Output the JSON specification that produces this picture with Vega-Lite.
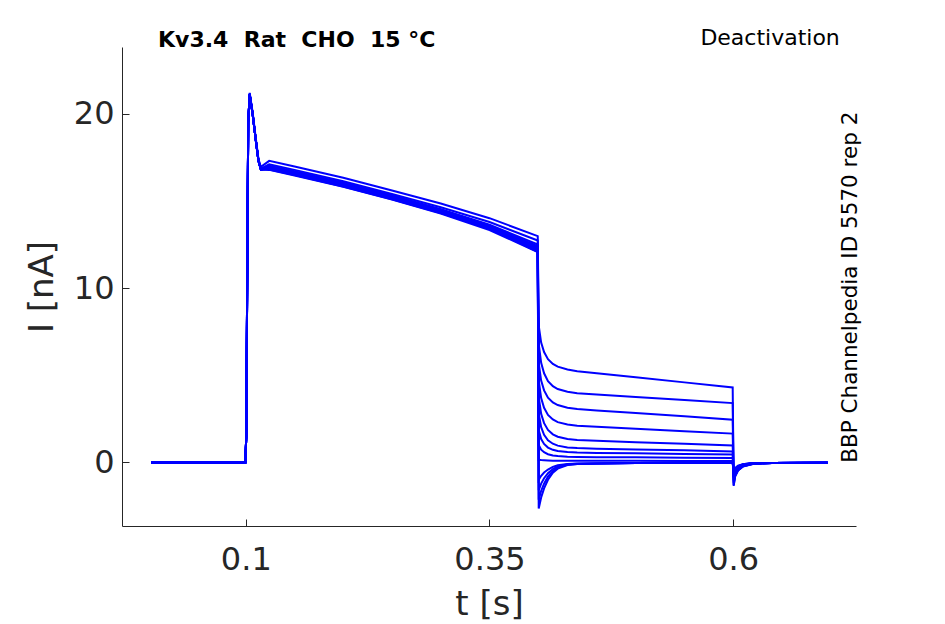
{
  "$schema": "https://vega.github.io/schema/vega-lite/v6.json",
  "width": 734,
  "height": 479,
  "autosize": "none",
  "padding": {"left": 122, "top": 47, "right": 89, "bottom": 98},
  "background": "white",
  "config": {"view": {"stroke": null}, "font": "DejaVu Sans"},
  "datasets": {
    "traces": [
      {"s":1,"t":0.003,"i":0},{"s":1,"t":0.0995,"i":0},{"s":1,"t":0.1005,"i":1.5},{"s":1,"t":0.1015,"i":11},{"s":1,"t":0.1025,"i":19.5},{"s":1,"t":0.104,"i":21.2},{"s":1,"t":0.107,"i":20.1},{"s":1,"t":0.11,"i":18.7},{"s":1,"t":0.113,"i":17.4},{"s":1,"t":0.1155,"i":16.95},
      {"s":1,"t":0.124,"i":17.3},{"s":1,"t":0.15,"i":16.98},{"s":1,"t":0.2,"i":16.33},{"s":1,"t":0.25,"i":15.6},{"s":1,"t":0.3,"i":14.85},{"s":1,"t":0.35,"i":14.01},{"s":1,"t":0.3995,"i":12.98},
      {"s":1,"t":0.4005,"i":7.85},{"s":1,"t":0.403,"i":6.87},{"s":1,"t":0.406,"i":6.33},{"s":1,"t":0.41,"i":5.92},{"s":1,"t":0.415,"i":5.65},{"s":1,"t":0.42,"i":5.49},{"s":1,"t":0.43,"i":5.33},{"s":1,"t":0.44,"i":5.23},{"s":1,"t":0.46,"i":5.11},{"s":1,"t":0.5,"i":4.88},{"s":1,"t":0.55,"i":4.59},{"s":1,"t":0.5995,"i":4.3},
      {"s":1,"t":0.6005,"i":-1.35},{"s":1,"t":0.602,"i":-0.81},{"s":1,"t":0.605,"i":-0.47},{"s":1,"t":0.61,"i":-0.24},{"s":1,"t":0.62,"i":-0.09},{"s":1,"t":0.64,"i":-0.03},{"s":1,"t":0.697,"i":-0.02},

      {"s":2,"t":0.003,"i":0},{"s":2,"t":0.0995,"i":0},{"s":2,"t":0.1005,"i":1.5},{"s":2,"t":0.1015,"i":11},{"s":2,"t":0.1025,"i":19.5},{"s":2,"t":0.104,"i":21.15},{"s":2,"t":0.107,"i":20},{"s":2,"t":0.11,"i":18.6},{"s":2,"t":0.113,"i":17.3},{"s":2,"t":0.1155,"i":16.85},
      {"s":2,"t":0.124,"i":17.1},{"s":2,"t":0.15,"i":16.78},{"s":2,"t":0.2,"i":16.13},{"s":2,"t":0.25,"i":15.4},{"s":2,"t":0.3,"i":14.64},{"s":2,"t":0.35,"i":13.79},{"s":2,"t":0.3995,"i":12.73},
      {"s":2,"t":0.4005,"i":6.8},{"s":2,"t":0.403,"i":5.71},{"s":2,"t":0.406,"i":5.11},{"s":2,"t":0.41,"i":4.66},{"s":2,"t":0.415,"i":4.37},{"s":2,"t":0.42,"i":4.21},{"s":2,"t":0.43,"i":4.05},{"s":2,"t":0.44,"i":3.97},{"s":2,"t":0.46,"i":3.89},{"s":2,"t":0.5,"i":3.75},{"s":2,"t":0.55,"i":3.58},{"s":2,"t":0.5995,"i":3.4},
      {"s":2,"t":0.6005,"i":-1.3},{"s":2,"t":0.602,"i":-0.78},{"s":2,"t":0.605,"i":-0.46},{"s":2,"t":0.61,"i":-0.23},{"s":2,"t":0.62,"i":-0.09},{"s":2,"t":0.64,"i":-0.03},{"s":2,"t":0.697,"i":-0.02},

      {"s":3,"t":0.003,"i":0},{"s":3,"t":0.0995,"i":0},{"s":3,"t":0.1005,"i":1.5},{"s":3,"t":0.1015,"i":11},{"s":3,"t":0.1025,"i":19.5},{"s":3,"t":0.104,"i":21.1},{"s":3,"t":0.107,"i":20},{"s":3,"t":0.11,"i":18.6},{"s":3,"t":0.113,"i":17.3},{"s":3,"t":0.1155,"i":16.8},
      {"s":3,"t":0.124,"i":17},{"s":3,"t":0.15,"i":16.68},{"s":3,"t":0.2,"i":16.03},{"s":3,"t":0.25,"i":15.3},{"s":3,"t":0.3,"i":14.52},{"s":3,"t":0.35,"i":13.64},{"s":3,"t":0.3995,"i":12.5},
      {"s":3,"t":0.4005,"i":5.7},{"s":3,"t":0.403,"i":4.69},{"s":3,"t":0.406,"i":4.13},{"s":3,"t":0.41,"i":3.71},{"s":3,"t":0.415,"i":3.44},{"s":3,"t":0.42,"i":3.29},{"s":3,"t":0.43,"i":3.14},{"s":3,"t":0.44,"i":3.06},{"s":3,"t":0.46,"i":2.98},{"s":3,"t":0.5,"i":2.83},{"s":3,"t":0.55,"i":2.64},{"s":3,"t":0.5995,"i":2.45},
      {"s":3,"t":0.6005,"i":-1.2},{"s":3,"t":0.602,"i":-0.72},{"s":3,"t":0.605,"i":-0.42},{"s":3,"t":0.61,"i":-0.22},{"s":3,"t":0.62,"i":-0.08},{"s":3,"t":0.64,"i":-0.03},{"s":3,"t":0.697,"i":-0.02},

      {"s":4,"t":0.003,"i":0},{"s":4,"t":0.0995,"i":0},{"s":4,"t":0.1005,"i":1.5},{"s":4,"t":0.1015,"i":11},{"s":4,"t":0.1025,"i":19.5},{"s":4,"t":0.104,"i":21.15},{"s":4,"t":0.107,"i":20},{"s":4,"t":0.11,"i":18.6},{"s":4,"t":0.113,"i":17.3},{"s":4,"t":0.1155,"i":16.8},
      {"s":4,"t":0.124,"i":16.96},{"s":4,"t":0.15,"i":16.64},{"s":4,"t":0.2,"i":15.99},{"s":4,"t":0.25,"i":15.26},{"s":4,"t":0.3,"i":14.47},{"s":4,"t":0.35,"i":13.57},{"s":4,"t":0.3995,"i":12.4},
      {"s":4,"t":0.4005,"i":4.7},{"s":4,"t":0.403,"i":3.69},{"s":4,"t":0.406,"i":3.13},{"s":4,"t":0.41,"i":2.72},{"s":4,"t":0.415,"i":2.46},{"s":4,"t":0.42,"i":2.31},{"s":4,"t":0.43,"i":2.17},{"s":4,"t":0.44,"i":2.1},{"s":4,"t":0.46,"i":2.04},{"s":4,"t":0.5,"i":1.93},{"s":4,"t":0.55,"i":1.79},{"s":4,"t":0.5995,"i":1.65},
      {"s":4,"t":0.6005,"i":-1.1},{"s":4,"t":0.602,"i":-0.66},{"s":4,"t":0.605,"i":-0.39},{"s":4,"t":0.61,"i":-0.2},{"s":4,"t":0.62,"i":-0.08},{"s":4,"t":0.64,"i":-0.03},{"s":4,"t":0.697,"i":-0.02},

      {"s":5,"t":0.003,"i":0},{"s":5,"t":0.0995,"i":0},{"s":5,"t":0.1005,"i":1.5},{"s":5,"t":0.1015,"i":11},{"s":5,"t":0.1025,"i":19.5},{"s":5,"t":0.104,"i":21.1},{"s":5,"t":0.107,"i":20},{"s":5,"t":0.11,"i":18.6},{"s":5,"t":0.113,"i":17.3},{"s":5,"t":0.1155,"i":16.8},
      {"s":5,"t":0.124,"i":16.92},{"s":5,"t":0.15,"i":16.6},{"s":5,"t":0.2,"i":15.95},{"s":5,"t":0.25,"i":15.22},{"s":5,"t":0.3,"i":14.43},{"s":5,"t":0.35,"i":13.52},{"s":5,"t":0.3995,"i":12.32},
      {"s":5,"t":0.4005,"i":3.75},{"s":5,"t":0.403,"i":2.78},{"s":5,"t":0.406,"i":2.25},{"s":5,"t":0.41,"i":1.86},{"s":5,"t":0.415,"i":1.61},{"s":5,"t":0.42,"i":1.47},{"s":5,"t":0.43,"i":1.34},{"s":5,"t":0.44,"i":1.29},{"s":5,"t":0.46,"i":1.24},{"s":5,"t":0.5,"i":1.16},{"s":5,"t":0.55,"i":1.07},{"s":5,"t":0.5995,"i":0.97},
      {"s":5,"t":0.6005,"i":-1},{"s":5,"t":0.602,"i":-0.6},{"s":5,"t":0.605,"i":-0.35},{"s":5,"t":0.61,"i":-0.18},{"s":5,"t":0.62,"i":-0.07},{"s":5,"t":0.64,"i":-0.03},{"s":5,"t":0.697,"i":-0.02},

      {"s":6,"t":0.003,"i":0},{"s":6,"t":0.0995,"i":0},{"s":6,"t":0.1005,"i":1.5},{"s":6,"t":0.1015,"i":11},{"s":6,"t":0.1025,"i":19.5},{"s":6,"t":0.104,"i":21.1},{"s":6,"t":0.107,"i":20},{"s":6,"t":0.11,"i":18.6},{"s":6,"t":0.113,"i":17.3},{"s":6,"t":0.1155,"i":16.8},
      {"s":6,"t":0.124,"i":16.88},{"s":6,"t":0.15,"i":16.56},{"s":6,"t":0.2,"i":15.91},{"s":6,"t":0.25,"i":15.18},{"s":6,"t":0.3,"i":14.38},{"s":6,"t":0.35,"i":13.46},{"s":6,"t":0.3995,"i":12.24},
      {"s":6,"t":0.4005,"i":2.8},{"s":6,"t":0.403,"i":2.02},{"s":6,"t":0.406,"i":1.58},{"s":6,"t":0.41,"i":1.27},{"s":6,"t":0.415,"i":1.07},{"s":6,"t":0.42,"i":0.96},{"s":6,"t":0.43,"i":0.86},{"s":6,"t":0.44,"i":0.82},{"s":6,"t":0.46,"i":0.78},{"s":6,"t":0.5,"i":0.74},{"s":6,"t":0.55,"i":0.69},{"s":6,"t":0.5995,"i":0.63},
      {"s":6,"t":0.6005,"i":-0.9},{"s":6,"t":0.602,"i":-0.54},{"s":6,"t":0.605,"i":-0.32},{"s":6,"t":0.61,"i":-0.16},{"s":6,"t":0.62,"i":-0.06},{"s":6,"t":0.64,"i":-0.03},{"s":6,"t":0.697,"i":-0.02},

      {"s":7,"t":0.003,"i":0},{"s":7,"t":0.0995,"i":0},{"s":7,"t":0.1005,"i":1.5},{"s":7,"t":0.1015,"i":11},{"s":7,"t":0.1025,"i":19.5},{"s":7,"t":0.104,"i":21.1},{"s":7,"t":0.107,"i":20},{"s":7,"t":0.11,"i":18.6},{"s":7,"t":0.113,"i":17.3},{"s":7,"t":0.1155,"i":16.8},
      {"s":7,"t":0.124,"i":16.84},{"s":7,"t":0.15,"i":16.52},{"s":7,"t":0.2,"i":15.87},{"s":7,"t":0.25,"i":15.14},{"s":7,"t":0.3,"i":14.33},{"s":7,"t":0.35,"i":13.4},{"s":7,"t":0.3995,"i":12.16},
      {"s":7,"t":0.4005,"i":1.85},{"s":7,"t":0.403,"i":1.34},{"s":7,"t":0.406,"i":1.06},{"s":7,"t":0.41,"i":0.85},{"s":7,"t":0.415,"i":0.72},{"s":7,"t":0.42,"i":0.65},{"s":7,"t":0.43,"i":0.59},{"s":7,"t":0.44,"i":0.56},{"s":7,"t":0.46,"i":0.54},{"s":7,"t":0.5,"i":0.52},{"s":7,"t":0.55,"i":0.48},{"s":7,"t":0.5995,"i":0.45},
      {"s":7,"t":0.6005,"i":-0.85},{"s":7,"t":0.602,"i":-0.51},{"s":7,"t":0.605,"i":-0.3},{"s":7,"t":0.61,"i":-0.15},{"s":7,"t":0.62,"i":-0.06},{"s":7,"t":0.64,"i":-0.03},{"s":7,"t":0.697,"i":-0.02},

      {"s":8,"t":0.003,"i":0},{"s":8,"t":0.0995,"i":0},{"s":8,"t":0.1005,"i":1.5},{"s":8,"t":0.1015,"i":11},{"s":8,"t":0.1025,"i":19.5},{"s":8,"t":0.104,"i":21.1},{"s":8,"t":0.107,"i":20},{"s":8,"t":0.11,"i":18.6},{"s":8,"t":0.113,"i":17.3},{"s":8,"t":0.1155,"i":16.8},
      {"s":8,"t":0.124,"i":16.94},{"s":8,"t":0.15,"i":16.62},{"s":8,"t":0.2,"i":15.97},{"s":8,"t":0.25,"i":15.24},{"s":8,"t":0.3,"i":14.41},{"s":8,"t":0.35,"i":13.43},{"s":8,"t":0.3995,"i":12.08},
      {"s":8,"t":0.4005,"i":1},{"s":8,"t":0.403,"i":0.73},{"s":8,"t":0.406,"i":0.58},{"s":8,"t":0.41,"i":0.47},{"s":8,"t":0.415,"i":0.4},{"s":8,"t":0.42,"i":0.36},{"s":8,"t":0.43,"i":0.32},{"s":8,"t":0.44,"i":0.31},{"s":8,"t":0.46,"i":0.3},{"s":8,"t":0.5,"i":0.29},{"s":8,"t":0.55,"i":0.27},{"s":8,"t":0.5995,"i":0.25},
      {"s":8,"t":0.6005,"i":-0.8},{"s":8,"t":0.602,"i":-0.48},{"s":8,"t":0.605,"i":-0.28},{"s":8,"t":0.61,"i":-0.14},{"s":8,"t":0.62,"i":-0.06},{"s":8,"t":0.64,"i":-0.03},{"s":8,"t":0.697,"i":-0.02},

      {"s":9,"t":0.003,"i":0},{"s":9,"t":0.0995,"i":0},{"s":9,"t":0.1005,"i":1.5},{"s":9,"t":0.1015,"i":11},{"s":9,"t":0.1025,"i":19.5},{"s":9,"t":0.104,"i":21.1},{"s":9,"t":0.107,"i":20},{"s":9,"t":0.11,"i":18.6},{"s":9,"t":0.113,"i":17.3},{"s":9,"t":0.1155,"i":16.8},
      {"s":9,"t":0.124,"i":16.8},{"s":9,"t":0.15,"i":16.48},{"s":9,"t":0.2,"i":15.83},{"s":9,"t":0.25,"i":15.1},{"s":9,"t":0.3,"i":14.31},{"s":9,"t":0.35,"i":13.4},{"s":9,"t":0.3995,"i":12.2},
      {"s":9,"t":0.4005,"i":0.15},{"s":9,"t":0.403,"i":0.13},{"s":9,"t":0.406,"i":0.12},{"s":9,"t":0.41,"i":0.11},{"s":9,"t":0.415,"i":0.1},{"s":9,"t":0.42,"i":0.1},{"s":9,"t":0.43,"i":0.1},{"s":9,"t":0.44,"i":0.1},{"s":9,"t":0.46,"i":0.09},{"s":9,"t":0.5,"i":0.09},{"s":9,"t":0.55,"i":0.08},{"s":9,"t":0.5995,"i":0.08},
      {"s":9,"t":0.6005,"i":-0.75},{"s":9,"t":0.602,"i":-0.45},{"s":9,"t":0.605,"i":-0.26},{"s":9,"t":0.61,"i":-0.14},{"s":9,"t":0.62,"i":-0.05},{"s":9,"t":0.64,"i":-0.03},{"s":9,"t":0.697,"i":-0.02},

      {"s":10,"t":0.003,"i":0},{"s":10,"t":0.0995,"i":0},{"s":10,"t":0.1005,"i":1.5},{"s":10,"t":0.1015,"i":11},{"s":10,"t":0.1025,"i":19.5},{"s":10,"t":0.104,"i":21.15},{"s":10,"t":0.107,"i":20},{"s":10,"t":0.11,"i":18.6},{"s":10,"t":0.113,"i":17.3},{"s":10,"t":0.1155,"i":16.85},
      {"s":10,"t":0.124,"i":17.02},{"s":10,"t":0.15,"i":16.7},{"s":10,"t":0.2,"i":16.05},{"s":10,"t":0.25,"i":15.32},{"s":10,"t":0.3,"i":14.51},{"s":10,"t":0.35,"i":13.56},{"s":10,"t":0.3995,"i":12.28},
      {"s":10,"t":0.4005,"i":-1},{"s":10,"t":0.403,"i":-0.77},{"s":10,"t":0.406,"i":-0.58},{"s":10,"t":0.41,"i":-0.41},{"s":10,"t":0.415,"i":-0.26},{"s":10,"t":0.42,"i":-0.17},{"s":10,"t":0.43,"i":-0.1},{"s":10,"t":0.44,"i":-0.07},{"s":10,"t":0.46,"i":-0.06},{"s":10,"t":0.5,"i":-0.04},{"s":10,"t":0.55,"i":-0.02},{"s":10,"t":0.5995,"i":0},
      {"s":10,"t":0.6005,"i":-0.7},{"s":10,"t":0.602,"i":-0.42},{"s":10,"t":0.605,"i":-0.25},{"s":10,"t":0.61,"i":-0.13},{"s":10,"t":0.62,"i":-0.05},{"s":10,"t":0.64,"i":-0.03},{"s":10,"t":0.697,"i":-0.02},

      {"s":11,"t":0.003,"i":0},{"s":11,"t":0.0995,"i":0},{"s":11,"t":0.1005,"i":1.5},{"s":11,"t":0.1015,"i":11},{"s":11,"t":0.1025,"i":19.5},{"s":11,"t":0.104,"i":21.1},{"s":11,"t":0.107,"i":20},{"s":11,"t":0.11,"i":18.6},{"s":11,"t":0.113,"i":17.3},{"s":11,"t":0.1155,"i":16.8},
      {"s":11,"t":0.124,"i":16.78},{"s":11,"t":0.15,"i":16.46},{"s":11,"t":0.2,"i":15.81},{"s":11,"t":0.25,"i":15.08},{"s":11,"t":0.3,"i":14.27},{"s":11,"t":0.35,"i":13.33},{"s":11,"t":0.3995,"i":12.06},
      {"s":11,"t":0.4005,"i":-1.6},{"s":11,"t":0.403,"i":-1.22},{"s":11,"t":0.406,"i":-0.91},{"s":11,"t":0.41,"i":-0.62},{"s":11,"t":0.415,"i":-0.38},{"s":11,"t":0.42,"i":-0.24},{"s":11,"t":0.43,"i":-0.11},{"s":11,"t":0.44,"i":-0.08},{"s":11,"t":0.46,"i":-0.06},{"s":11,"t":0.5,"i":-0.04},{"s":11,"t":0.55,"i":-0.02},{"s":11,"t":0.5995,"i":0},
      {"s":11,"t":0.6005,"i":-0.65},{"s":11,"t":0.602,"i":-0.39},{"s":11,"t":0.605,"i":-0.23},{"s":11,"t":0.61,"i":-0.12},{"s":11,"t":0.62,"i":-0.05},{"s":11,"t":0.64,"i":-0.03},{"s":11,"t":0.697,"i":-0.02},

      {"s":12,"t":0.003,"i":0},{"s":12,"t":0.0995,"i":0},{"s":12,"t":0.1005,"i":1.5},{"s":12,"t":0.1015,"i":11},{"s":12,"t":0.1025,"i":19.5},{"s":12,"t":0.104,"i":21.1},{"s":12,"t":0.107,"i":20},{"s":12,"t":0.11,"i":18.6},{"s":12,"t":0.113,"i":17.3},{"s":12,"t":0.1155,"i":16.8},
      {"s":12,"t":0.124,"i":16.96},{"s":12,"t":0.15,"i":16.64},{"s":12,"t":0.2,"i":15.99},{"s":12,"t":0.25,"i":15.26},{"s":12,"t":0.3,"i":14.47},{"s":12,"t":0.35,"i":13.56},{"s":12,"t":0.3995,"i":12.36},
      {"s":12,"t":0.4005,"i":-2.15},{"s":12,"t":0.403,"i":-1.63},{"s":12,"t":0.406,"i":-1.22},{"s":12,"t":0.41,"i":-0.82},{"s":12,"t":0.415,"i":-0.49},{"s":12,"t":0.42,"i":-0.3},{"s":12,"t":0.43,"i":-0.13},{"s":12,"t":0.44,"i":-0.09},{"s":12,"t":0.46,"i":-0.06},{"s":12,"t":0.5,"i":-0.04},{"s":12,"t":0.55,"i":-0.02},{"s":12,"t":0.5995,"i":0},
      {"s":12,"t":0.6005,"i":-0.6},{"s":12,"t":0.602,"i":-0.36},{"s":12,"t":0.605,"i":-0.21},{"s":12,"t":0.61,"i":-0.11},{"s":12,"t":0.62,"i":-0.04},{"s":12,"t":0.64,"i":-0.03},{"s":12,"t":0.697,"i":-0.02},

      {"s":13,"t":0.003,"i":0},{"s":13,"t":0.0995,"i":0},{"s":13,"t":0.1005,"i":1.5},{"s":13,"t":0.1015,"i":11},{"s":13,"t":0.1025,"i":19.5},{"s":13,"t":0.104,"i":21.1},{"s":13,"t":0.107,"i":20},{"s":13,"t":0.11,"i":18.6},{"s":13,"t":0.113,"i":17.3},{"s":13,"t":0.1155,"i":16.8},
      {"s":13,"t":0.124,"i":16.86},{"s":13,"t":0.15,"i":16.54},{"s":13,"t":0.2,"i":15.89},{"s":13,"t":0.25,"i":15.16},{"s":13,"t":0.3,"i":14.35},{"s":13,"t":0.35,"i":13.4},{"s":13,"t":0.3995,"i":12.12},
      {"s":13,"t":0.4005,"i":-2.65},{"s":13,"t":0.403,"i":-2.01},{"s":13,"t":0.406,"i":-1.49},{"s":13,"t":0.41,"i":-1},{"s":13,"t":0.415,"i":-0.59},{"s":13,"t":0.42,"i":-0.36},{"s":13,"t":0.43,"i":-0.15},{"s":13,"t":0.44,"i":-0.09},{"s":13,"t":0.46,"i":-0.06},{"s":13,"t":0.5,"i":-0.04},{"s":13,"t":0.55,"i":-0.02},{"s":13,"t":0.5995,"i":0},
      {"s":13,"t":0.6005,"i":-0.55},{"s":13,"t":0.602,"i":-0.33},{"s":13,"t":0.605,"i":-0.19},{"s":13,"t":0.61,"i":-0.1},{"s":13,"t":0.62,"i":-0.04},{"s":13,"t":0.64,"i":-0.03},{"s":13,"t":0.697,"i":-0.02}
    ]
  },
  "layer": [
    {
      "data": {"name": "traces"},
      "mark": {"type": "line", "color": "#0000ff", "strokeWidth": 2, "clip": true},
      "encoding": {
        "x": {
          "field": "t", "type": "quantitative",
          "scale": {"domain": [-0.027, 0.726], "nice": false, "zero": false},
          "axis": {
            "values": [0.1, 0.35, 0.6], "format": "~g", "title": "t [s]", "grid": false,
            "tickSize": -7, "labelPadding": 25, "titlePadding": 12,
            "labelFontSize": 32, "titleFontSize": 34, "titleFontWeight": "normal",
            "labelFont": "DejaVu Sans", "titleFont": "DejaVu Sans",
            "domainColor": "#262626", "tickColor": "#262626", "labelColor": "#262626", "titleColor": "#262626"
          }
        },
        "y": {
          "field": "i", "type": "quantitative",
          "scale": {"domain": [-3.65, 23.83], "nice": false, "zero": false},
          "axis": {
            "values": [0, 10, 20], "format": "d", "title": "I [nA]", "grid": false,
            "tickSize": -7, "labelPadding": 15, "titlePadding": 14,
            "labelFontSize": 32, "titleFontSize": 34, "titleFontWeight": "normal",
            "labelFont": "DejaVu Sans", "titleFont": "DejaVu Sans",
            "domainColor": "#262626", "tickColor": "#262626", "labelColor": "#262626", "titleColor": "#262626"
          }
        },
        "detail": {"field": "s", "type": "nominal"}
      }
    },
    {
      "data": {"values": [{"t": 0.01, "i": 23.85, "label": "Kv3.4\u00a0 Rat\u00a0 CHO\u00a0 15 °C"}]},
      "mark": {"type": "text", "align": "left", "baseline": "alphabetic", "fontSize": 22, "fontWeight": "bold", "font": "DejaVu Sans", "color": "black"},
      "encoding": {
        "x": {"field": "t", "type": "quantitative"},
        "y": {"field": "i", "type": "quantitative"},
        "text": {"field": "label"}
      }
    },
    {
      "data": {"values": [{"t": 0.7094, "i": 23.97, "label": "Deactivation"}]},
      "mark": {"type": "text", "align": "right", "baseline": "alphabetic", "fontSize": 22, "font": "DejaVu Sans", "color": "black"},
      "encoding": {
        "x": {"field": "t", "type": "quantitative"},
        "y": {"field": "i", "type": "quantitative"},
        "text": {"field": "label"}
      }
    },
    {
      "data": {"values": [{"t": 0.7205, "i": 10.05, "label": "BBP Channelpedia ID 5570 rep 2"}]},
      "mark": {"type": "text", "align": "center", "baseline": "middle", "angle": 270, "fontSize": 21.5, "font": "DejaVu Sans", "color": "black"},
      "encoding": {
        "x": {"field": "t", "type": "quantitative"},
        "y": {"field": "i", "type": "quantitative"},
        "text": {"field": "label"}
      }
    }
  ]
}
